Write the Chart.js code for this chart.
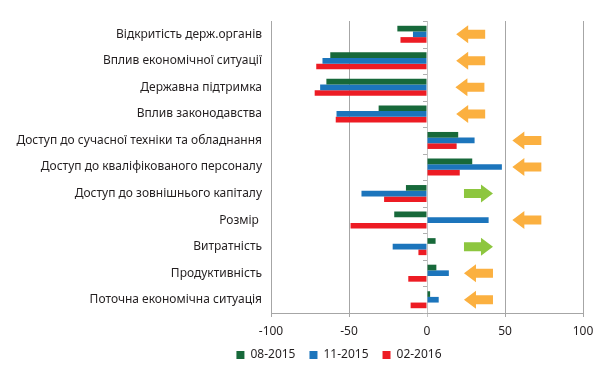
<!DOCTYPE html>
<html>
<head>
<meta charset="utf-8">
<script src="https://cdn.jsdelivr.net/npm/chart.js@4/dist/chart.umd.min.js"></script>
<style>
  html, body { margin: 0; padding: 0; background: #ffffff; }
  #wrap { width: 605px; height: 365px; position: relative; }
</style>
</head>
<body>
<div id="wrap"><canvas id="c" width="605" height="365"></canvas></div>
<script>
const categories = [
  'Відкритість держ.органів',
  'Вплив економічної ситуації',
  'Державна підтримка',
  'Вплив законодавства',
  'Доступ до сучасної техніки та обладнання',
  'Доступ до кваліфікованого персоналу',
  'Доступ до зовнішнього капіталу',
  'Розмір ',
  'Витратність',
  'Продуктивність',
  'Поточна економічна ситуація'
];
const seriesNames = ['08-2015', '11-2015', '02-2016'];
const values0815 = [-19, -62, -64.5, -31, 20, 29, -13.5, -21, 5.5, 6, 2];
const values1115 = [-9, -67, -68.5, -58, 30.5, 48, -42, 39.5, -22, 14, 7.5];
const values0216 = [-17, -71, -72, -58.5, 19, 21, -27.5, -49, -5.5, -12, -10.5];
// trend arrows: centre position (in axis units) and direction
const arrowCenters = [28, 28, 27.5, 28, 64, 64, 33, 64, 33, 33, 33];
const arrowDirections = ['left','left','left','left','left','left','right','left','right','left','left'];
const xTicks = [-100, -50, 0, 50, 100];

const FONT = 'Noto Sans';
const TEXT = '#231f20';
const GRID = '#a6a6a6';
const COLORS = ['#17693a', '#1c75bc', '#ed1c24'];
const ARROW_COLORS = { left: '#fbb040', right: '#8dc63f' };

const arrowPlugin = {
  id: 'arrows',
  afterDatasetsDraw(chart) {
    const ctx = chart.ctx;
    const xs = chart.scales.x, ys = chart.scales.y;
    ctx.save();
    arrowCenters.forEach((v, i) => {
      const cx = xs.getPixelForValue(v);
      const cy = ys.getPixelForValue(i);
      const len = 29, head = 12, hh = 9, sh = 4.5;
      const dir = arrowDirections[i] === 'left' ? -1 : 1;
      const tip = cx + dir * len / 2;
      const tail = cx - dir * len / 2;
      const base = tip - dir * head;
      ctx.fillStyle = ARROW_COLORS[arrowDirections[i]];
      ctx.beginPath();
      ctx.moveTo(tip, cy);
      ctx.lineTo(base, cy - hh);
      ctx.lineTo(base, cy - sh);
      ctx.lineTo(tail, cy - sh);
      ctx.lineTo(tail, cy + sh);
      ctx.lineTo(base, cy + sh);
      ctx.lineTo(base, cy + hh);
      ctx.closePath();
      ctx.fill();
    });
    ctx.restore();
  },
  beforeDatasetsDraw(chart) {
    // small category ticks on the zero line
    const ctx = chart.ctx;
    const xs = chart.scales.x, ys = chart.scales.y;
    const x0 = xs.getPixelForValue(0);
    const n = categories.length;
    const step = (ys.bottom - ys.top) / n;
    ctx.save();
    ctx.strokeStyle = '#b0b0b0';
    ctx.lineWidth = 1;
    for (let i = 0; i <= n; i++) {
      const y = Math.round(ys.top + i * step) + 0.5;
      ctx.beginPath();
      ctx.moveTo(x0 - 4, y);
      ctx.lineTo(x0, y);
      ctx.stroke();
    }
    ctx.restore();
  },
  afterLayout(chart) {
    const L = chart.legend;
    if (!L) return;
    const d = 339 - (L.left + L.right) / 2;
    L.left += d; L.right += d;
  }
};

new Chart(document.getElementById('c'), {
  type: 'bar',
  data: {
    labels: categories,
    datasets: [
      { label: seriesNames[0], data: values0815, backgroundColor: COLORS[0] },
      { label: seriesNames[1], data: values1115, backgroundColor: COLORS[1] },
      { label: seriesNames[2], data: values0216, backgroundColor: COLORS[2] }
    ]
  },
  options: {
    indexAxis: 'y',
    responsive: false,
    animation: false,
    devicePixelRatio: 1,
    layout: { padding: { left: 0, right: 22, top: 21, bottom: -6 } },
    datasets: { bar: { barPercentage: 1, categoryPercentage: 0.64 } },
    scales: {
      x: {
        min: -100, max: 100,
        afterBuildTicks(scale) { scale.ticks = xTicks.map(v => ({ value: v })); },
        afterFit(scale) { scale.height = 22; },
        grid: {
          color: ctx => (ctx.tick && ctx.tick.value === 0) ? '#c4c4c4' : GRID,
          lineWidth: 1,
          tickLength: 4,
          drawTicks: true
        },
        border: { display: true, color: GRID },
        ticks: { color: TEXT, font: { family: FONT, size: 12 }, padding: 7, maxRotation: 0 }
      },
      y: {
        afterFit(scale) { scale.width = 271; },
        grid: { display: false, drawTicks: false },
        border: { display: false },
        ticks: { color: TEXT, font: { family: FONT, size: 12 }, padding: 9, autoSkip: false }
      }
    },
    plugins: {
      legend: {
        position: 'bottom',
        labels: {
          boxWidth: 8, boxHeight: 8, padding: 14,
          color: TEXT, font: { family: FONT, size: 12 }
        }
      },
      tooltip: { enabled: false }
    }
  },
  plugins: [arrowPlugin]
});
</script>
</body>
</html>
